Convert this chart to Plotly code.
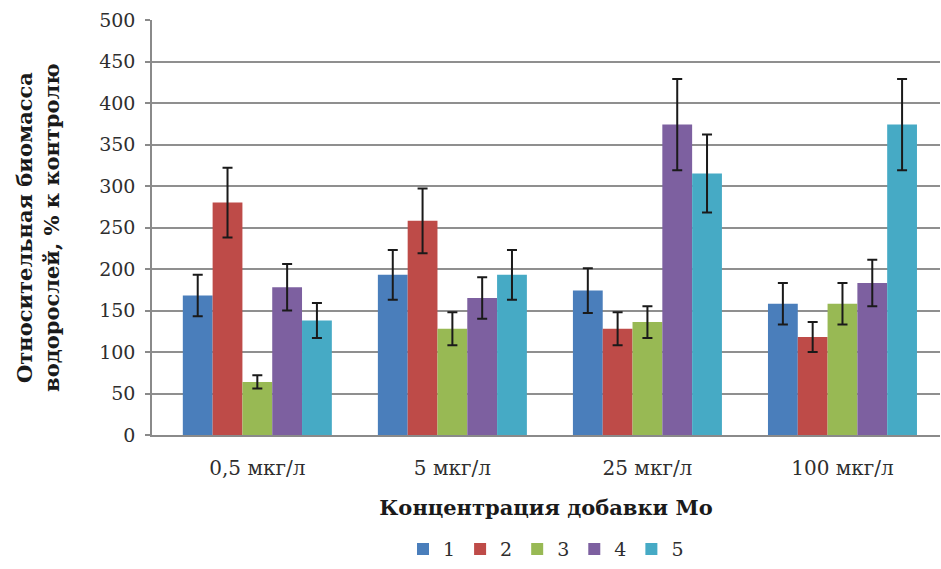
import plotly.graph_objects as go

categories = ["0,5 мкг/л", "5 мкг/л", "25 мкг/л", "100 мкг/л"]
series_names = ["1", "2", "3", "4", "5"]
values_1 = [168, 193, 174, 158]
values_2 = [280, 258, 128, 118]
values_3 = [64, 128, 136, 158]
values_4 = [178, 165, 374, 183]
values_5 = [138, 193, 315, 374]
errors_1 = [25, 30, 27, 25]
errors_2 = [42, 39, 20, 18]
errors_3 = [8, 20, 19, 25]
errors_4 = [28, 25, 55, 28]
errors_5 = [21, 30, 47, 55]
colors = ["#4a7ebb", "#be4b48", "#98b954", "#7d60a0", "#46aac5"]

values = [values_1, values_2, values_3, values_4, values_5]
errors = [errors_1, errors_2, errors_3, errors_4, errors_5]

serif = "DejaVu Serif"
label_color = "#2e2e2e"

fig = go.Figure()
for name, vals, errs, col in zip(series_names, values, errors, colors):
    fig.add_trace(go.Bar(
        x=categories, y=vals, name=name,
        marker=dict(color=col, line=dict(width=0)),
        error_y=dict(type="data", array=errs, visible=True,
                     color="#1a1a1a", thickness=2, width=5),
    ))

fig.update_layout(
    width=941, height=569,
    margin=dict(l=152, r=1, t=20, b=134),
    paper_bgcolor="white", plot_bgcolor="white",
    barmode="group", bargap=0.236, bargroupgap=0,
    font=dict(family=serif, size=18, color=label_color),
    legend=dict(orientation="h", x=0.5, xanchor="center", y=-0.275, yanchor="middle",
                font=dict(family=serif, size=19, color=label_color),
                itemwidth=30, tracegroupgap=0),
    showlegend=True,
)
fig.update_xaxes(
    type="category", range=[-0.54, 3.5],
    showgrid=False, showline=True, linecolor="#8a8a8a", linewidth=1.5,
    ticks="", ticklabelstandoff=14,
    tickfont=dict(family=serif, size=20, color=label_color),
    title=dict(text="<b>Концентрация добавки Мо</b>", standoff=22,
               font=dict(family=serif, size=21, color="#1a1a1a")),
)
fig.update_yaxes(
    range=[0, 500], dtick=50,
    showgrid=True, gridcolor="#8f8f8f", gridwidth=1.5,
    showline=True, linecolor="#8a8a8a", linewidth=1.5,
    ticks="outside", ticklen=5, tickcolor="#8a8a8a", tickwidth=1.5,
    ticklabelstandoff=6,
    tickfont=dict(family=serif, size=19, color=label_color),
    zeroline=False,
    title=dict(text="<b>Относительная биомасса<br>водорослей, % к контролю</b>",
               standoff=34, font=dict(family=serif, size=21, color="#1a1a1a")),
)

fig.write_html("out.html")
